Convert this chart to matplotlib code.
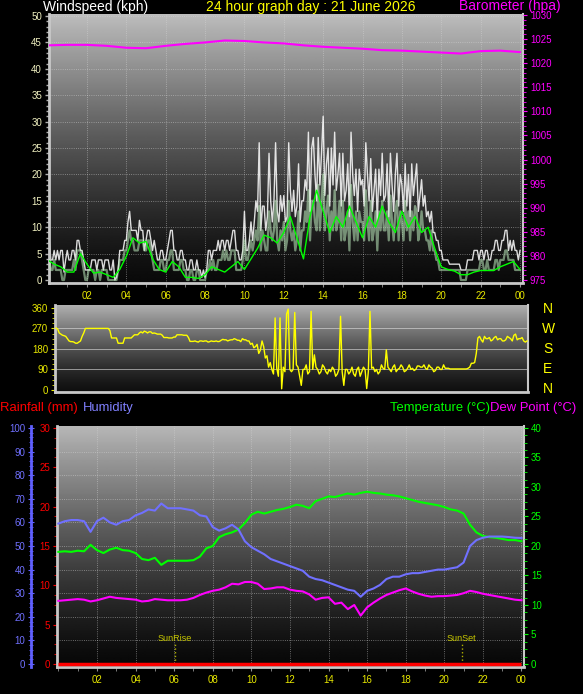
import numpy as np
import matplotlib
matplotlib.use('Agg')
import matplotlib.pyplot as plt
from matplotlib.ticker import MultipleLocator, FixedLocator

plt.rcParams['font.family'] = ['Liberation Sans', 'DejaVu Sans']

# ---- data (hours since midnight) ----
# wind, 5 minute steps, kph (one row per hour)
gust = [
    7.5, 7.5, 3.8, 3.8, 5.6, 3.8, 5.6, 3.8, 5.6, 5.6, 1.5, 3.8,
    5.6, 3.8, 3.8, 5.6, 5.6, 3.8, 7.5, 7.5, 5.6, 5.6, 3.8, 1.9,
    1.9, 1.9, 1.9, 3.8, 3.8, 3.8, 1.9, 3.8, 3.8, 3.8, 1.9, 3.8,
    3.8, 3.8, 1.9, 1.9, 3.8, 0.0, 0.5, 1.9, 5.6, 5.6, 5.6, 7.5,
    7.5, 11.0, 13.0, 9.4, 9.4, 9.4, 9.4, 7.5, 11.3, 9.4, 9.4, 5.6,
    7.5, 9.4, 9.4, 7.5, 5.6, 7.5, 5.6, 3.8, 3.8, 5.6, 5.6, 3.8,
    3.8, 5.6, 7.5, 9.4, 9.4, 5.6, 5.6, 3.8, 3.8, 5.6, 5.6, 3.8,
    3.8, 1.9, 1.9, 3.8, 3.8, 1.9, 1.9, 3.8, 1.9, 1.9, 0.5, 1.9,
    0.5, 1.9, 5.6, 5.6, 3.8, 5.6, 5.6, 5.6, 7.5, 5.6, 7.5, 7.5,
    5.6, 7.5, 7.5, 5.6, 7.5, 9.4, 9.4, 5.6, 5.6, 3.8, 3.8, 5.6,
    13.0, 5.6, 5.6, 7.5, 11.0, 7.5, 11.0, 15.0, 13.0, 26.0, 9.4, 14.0,
    14.0, 9.4, 12.0, 24.0, 15.0, 11.0, 15.0, 26.0, 13.0, 11.0, 16.0, 13.0,
    16.0, 11.0, 12.0, 26.0, 17.0, 13.0, 17.0, 12.0, 14.0, 22.0, 11.0, 15.0,
    15.0, 19.0, 17.0, 28.0, 13.0, 25.0, 27.0, 20.0, 15.0, 27.0, 18.0, 24.0,
    31.0, 16.0, 22.0, 25.0, 14.0, 25.0, 18.0, 28.0, 17.0, 20.0, 24.0, 14.0,
    24.0, 15.0, 17.0, 22.0, 12.0, 28.0, 20.0, 16.0, 21.0, 13.0, 21.0, 18.0,
    19.0, 14.0, 26.0, 20.0, 15.0, 23.0, 13.0, 17.0, 21.0, 11.0, 21.0, 16.0,
    24.0, 15.0, 16.0, 22.0, 12.0, 24.0, 18.0, 13.0, 20.0, 24.0, 14.0, 20.0,
    18.0, 13.0, 22.0, 14.0, 20.0, 12.0, 22.0, 16.0, 19.0, 22.0, 13.0, 16.0,
    19.0, 14.0, 16.0, 12.0, 13.0, 11.0, 13.0, 9.0, 9.0, 7.5, 7.5, 5.6,
    5.6, 3.8, 3.8, 3.8, 3.8, 3.0, 3.0, 3.0, 3.0, 3.0, 3.0, 3.0,
    1.9, 1.9, 1.9, 1.9, 3.8, 3.8, 3.8, 3.8, 5.6, 5.6, 5.6, 3.8,
    5.6, 5.6, 3.8, 5.6, 5.6, 3.8, 3.8, 5.6, 5.6, 7.5, 7.5, 5.6,
    5.6, 7.5, 7.5, 9.4, 9.4, 5.6, 7.5, 5.6, 7.5, 5.6, 5.6, 3.8,
    5.6]
speed = [
    3.8, 3.8, 1.9, 1.9, 3.8, 1.9, 1.9, 1.9, 1.9, 0.0, 0.0, 1.9,
    1.9, 1.9, 1.9, 1.9, 3.8, 1.9, 5.6, 5.6, 5.6, 3.8, 1.9, 0.0,
    0.0, 1.9, 1.9, 1.9, 1.9, 0.0, 1.9, 1.9, 0.0, 1.9, 1.9, 1.9,
    1.9, 0.0, 0.0, 0.0, 0.0, 0.0, 0.0, 1.9, 3.8, 3.8, 3.8, 5.6,
    5.6, 7.5, 9.4, 7.5, 7.5, 5.6, 5.6, 5.6, 7.5, 7.5, 7.5, 5.6,
    5.6, 7.5, 7.5, 5.6, 3.8, 1.9, 1.9, 1.9, 1.9, 3.8, 3.8, 1.9,
    1.9, 3.8, 3.8, 5.6, 5.6, 1.9, 1.9, 1.9, 1.9, 3.8, 3.8, 1.9,
    1.9, 0.0, 0.0, 1.9, 1.9, 0.0, 0.0, 1.9, 1.9, 0.0, 0.0, 0.0,
    0.0, 1.9, 1.9, 3.8, 1.9, 3.8, 1.9, 1.9, 3.8, 3.8, 3.8, 5.6,
    3.8, 5.6, 3.8, 3.8, 5.6, 5.6, 5.6, 1.9, 1.9, 1.9, 1.9, 3.8,
    7.5, 3.8, 3.8, 5.6, 7.5, 5.6, 7.5, 9.4, 7.5, 14.0, 5.6, 9.4,
    7.5, 5.6, 5.6, 13.0, 9.4, 7.5, 9.4, 15.0, 7.5, 5.6, 9.4, 7.5,
    11.0, 5.6, 7.5, 15.0, 9.4, 7.5, 9.4, 5.6, 7.5, 13.0, 5.6, 9.4,
    9.4, 13.0, 11.0, 17.0, 7.5, 15.0, 15.0, 11.0, 9.4, 18.0, 9.4, 15.0,
    20.0, 9.4, 13.0, 16.0, 7.5, 13.0, 9.4, 17.0, 9.4, 11.0, 15.0, 7.5,
    15.0, 7.5, 9.4, 13.0, 5.6, 18.0, 11.0, 7.5, 13.0, 7.5, 13.0, 11.0,
    11.0, 7.5, 17.0, 11.0, 7.5, 15.0, 7.5, 9.4, 13.0, 5.6, 13.0, 9.4,
    15.0, 9.4, 9.4, 13.0, 7.5, 16.0, 11.0, 7.5, 13.0, 15.0, 7.5, 13.0,
    11.0, 7.5, 15.0, 9.4, 13.0, 7.5, 13.0, 9.4, 14.0, 13.0, 7.5, 9.4,
    13.0, 9.4, 9.4, 7.5, 7.5, 5.6, 9.4, 5.6, 5.6, 3.8, 3.8, 1.9,
    1.9, 1.9, 1.9, 1.9, 1.9, 1.9, 1.9, 1.9, 1.9, 1.9, 1.9, 1.9,
    0.0, 0.0, 0.0, 0.0, 1.9, 1.9, 1.9, 1.9, 1.9, 1.9, 1.9, 1.9,
    3.8, 3.8, 1.9, 1.9, 3.8, 1.9, 1.9, 1.9, 1.9, 3.8, 3.8, 1.9,
    3.8, 3.8, 3.8, 5.6, 5.6, 3.8, 3.8, 3.8, 3.8, 1.9, 1.9, 1.9,
    1.9]
# 20 minute steps
avg_speed = [
    3.8, 3.0, 2.5, 1.5, 1.5, 5.0, 3.0, 1.3, 1.5, 1.0, 0.5, 2.0,
    4.5, 8.0, 7.0, 7.3, 4.0, 2.0, 1.5, 3.5, 2.5, 0.5, 0.5, 0.3,
    1.0, 2.5, 2.0, 1.5, 2.5, 3.5, 2.0, 4.0, 6.0, 8.5, 8.0, 7.0,
    9.0, 12.0, 8.0, 4.0, 12.0, 17.0, 13.0, 9.0, 12.0, 10.0, 14.0, 11.0,
    8.0, 12.0, 10.0, 14.0, 11.0, 9.0, 13.0, 10.0, 12.0, 9.0, 10.0, 6.0,
    2.5, 2.0, 1.7, 1.0, 1.0, 1.5, 1.8, 1.8, 1.8, 2.5, 3.0, 3.5,
    2.0]
# hourly, hPa
pressure = [1023.7, 1023.8, 1023.8, 1023.6, 1023.2, 1023.1, 1023.6, 1024.0,
            1024.3, 1024.7, 1024.6, 1024.3, 1024.1, 1023.7, 1023.4, 1023.2,
            1023.0, 1022.7, 1022.6, 1022.4, 1022.2, 1022.0, 1022.5, 1022.6,
            1022.3]
# wind direction, 5 minute steps, degrees (one row per hour)
direction = [
    272, 268, 250, 245, 240, 238, 235, 225, 215, 212, 212, 210,
    205, 205, 210, 215, 235, 250, 270, 270, 270, 270, 270, 270,
    270, 270, 270, 270, 270, 270, 270, 270, 270, 260, 228, 228,
    228, 228, 205, 205, 205, 205, 228, 228, 228, 228, 228, 235,
    242, 242, 242, 250, 255, 250, 258, 255, 250, 255, 255, 248,
    250, 248, 245, 245, 245, 240, 230, 230, 230, 228, 228, 228,
    232, 232, 242, 242, 242, 242, 240, 240, 240, 230, 213, 213,
    213, 215, 212, 210, 215, 215, 213, 215, 215, 210, 212, 215,
    213, 213, 215, 212, 213, 218, 222, 220, 220, 215, 218, 220,
    220, 225, 222, 218, 218, 212, 225, 220, 220, 215, 215, 200,
    205, 185, 190, 200, 160, 175, 215, 190, 140, 150, 100, 120,
    90, 70, 316, 95, 60, 316, 5, 100, 80, 333, 355, 90,
    80, 90, 340, 110, 100, 60, 20, 90, 90, 110, 70, 80,
    345, 90, 154, 100, 90, 70, 80, 110, 100, 80, 70, 90,
    80, 100, 90, 60, 70, 90, 323, 80, 20, 90, 90, 70,
    80, 100, 70, 60, 90, 100, 60, 80, 100, 90, 6, 80,
    345, 95, 100, 80, 90, 70, 80, 110, 95, 90, 176, 100,
    90, 80, 100, 110, 80, 90, 95, 110, 100, 80, 85, 95,
    110, 90, 95, 85, 90, 105, 105, 100, 100, 110, 95, 90,
    110, 100, 95, 80, 85, 100, 100, 90, 90, 110, 95, 95,
    95, 92, 92, 92, 92, 92, 92, 92, 92, 92, 92, 92,
    95, 100, 117, 117, 120, 160, 228, 235, 220, 210, 235, 225,
    225, 230, 215, 220, 230, 235, 220, 225, 225, 215, 215, 220,
    235, 230, 225, 215, 240, 245, 220, 225, 225, 230, 215, 210,
    215]
# 20 minute steps
temperature = [
    19.0, 19.1, 19.0, 19.2, 19.1, 20.2, 19.3, 18.8, 19.4, 19.7, 19.3, 19.2,
    18.8, 17.8, 17.6, 18.0, 16.8, 17.5, 17.5, 17.5, 17.5, 17.6, 18.2, 19.6,
    20.0, 21.5, 22.0, 22.3, 22.8, 23.9, 25.3, 25.8, 25.5, 25.8, 26.1, 26.3,
    26.6, 27.0, 26.8, 26.4, 27.6, 28.0, 28.4, 28.3, 28.6, 28.9, 28.7, 29.0,
    29.2, 29.0, 28.9, 28.7, 28.6, 28.4, 28.1, 27.8, 27.5, 27.3, 27.1, 26.9,
    26.6, 26.2, 26.0, 25.5, 23.6, 22.3, 21.7, 21.5, 21.4, 21.2, 21.0, 21.0,
    20.8]
humidity = [
    59.5, 60.5, 61, 61, 60.5, 56, 60.5, 62, 60, 59, 60.5, 61,
    63, 64, 65.5, 65, 68, 66, 66, 66, 65.5, 65, 63, 62.5,
    58, 56.5, 57.5, 59, 57, 52, 49.5, 48, 46.5, 44.5, 43.5, 42.5,
    41.5, 40.5, 39.5, 37, 36, 35.5, 34.5, 33.5, 32.5, 31.5, 31, 28.5,
    31, 32, 33.5, 36, 37, 37, 38, 38.5, 38.5, 39, 39.5, 40,
    40, 40.5, 41, 43, 50, 52.5, 53.5, 54, 54, 54, 53.8, 53.5,
    53.4]
dew_point = [
    10.7, 10.8, 10.9, 11.0, 10.9, 10.6, 10.8, 11.1, 11.4, 11.2, 11.1, 11.0,
    10.9, 10.6, 10.7, 11.0, 10.9, 10.8, 10.8, 10.8, 10.9, 11.2, 11.7, 12.1,
    12.4, 12.6, 13.0, 13.6, 13.5, 13.9, 13.9, 13.6, 12.7, 12.8, 13.0, 13.0,
    12.6, 12.4, 12.3, 11.8, 10.9, 11.2, 11.3, 10.2, 10.4, 9.3, 10.0, 8.2,
    9.6, 10.4, 11.1, 11.7, 12.1, 12.5, 12.8, 12.3, 11.9, 11.6, 11.4, 11.5,
    11.5, 11.6, 11.7, 12.0, 12.4, 12.2, 11.9, 11.7, 11.5, 11.3, 11.1, 10.9,
    10.8]
rainfall = [0.0] * 73
sunrise = 6.05
sunset = 20.9

hour_ticks = [2, 4, 6, 8, 10, 12, 14, 16, 18, 20, 22, 24]
hour_labels = ['02', '04', '06', '08', '10', '12', '14', '16', '18', '20', '22', '00']

t5 = np.arange(len(gust)) / 12.0
t20 = np.arange(len(temperature)) / 3.0
t60 = np.arange(len(pressure))

YELLOW = '#e8e800'
PALE = '#f0f0c0'
MAGENTA = '#ff00ff'
GREEN = '#00ff00'
BLUE = '#7070ff'
RED = '#ff0000'
EDGE = '#c8c8c8'
GRID = dict(color='#d8d8d8', lw=0.6, ls=':', alpha=0.6)


def gradient_bg(ax, top=0.74, bottom=0.04):
    s = np.linspace(1, 0, 256).reshape(-1, 1)
    g = bottom + (top - bottom) * s ** 1.3
    ax.imshow(g, extent=[0, 1, 0, 1], transform=ax.transAxes, aspect='auto',
              cmap='gray', vmin=0, vmax=1, zorder=0, interpolation='bilinear')


def base_spines(ax, right=True):
    for name, sp in ax.spines.items():
        sp.set_visible(name in ('left', 'bottom') or (right and name == 'right'))
        sp.set_color(EDGE)
        sp.set_linewidth(2 if name != 'right' else 1.5)


fig = plt.figure(figsize=(5.83, 6.94), dpi=100, facecolor='black')

# ---------------- wind / barometer ----------------
ax1 = fig.add_axes([0.0840, 0.5922, 0.8130, 0.3876])
gradient_bg(ax1)
base_spines(ax1)
for h in hour_ticks:
    ax1.axvline(h, zorder=1, **GRID)
for w in range(5, 51, 5):
    ax1.axhline(w, zorder=1, **GRID)
ax1.plot(t5, gust, color='white', lw=1.0, alpha=0.85, zorder=2)
ax1.plot(t5, speed, color='#c0f0c0', lw=1.6, alpha=0.55, zorder=3)
ax1.plot(t20, avg_speed, color=GREEN, lw=1.0, zorder=4)
ax1.set_xlim(0.07, 24.15)
ax1.set_ylim(-0.57, 50.38)
ax1.yaxis.set_major_locator(MultipleLocator(5))
ax1.yaxis.set_minor_locator(MultipleLocator(1))
ax1.tick_params(axis='y', which='both', colors='#b0b0b0', labelcolor=PALE, labelsize=7, length=3, width=1, pad=2)
ax1.tick_params(axis='y', which='minor', length=2)
ax1.xaxis.set_major_locator(FixedLocator(hour_ticks))
ax1.xaxis.set_minor_locator(MultipleLocator(1))
ax1.set_xticklabels(hour_labels)
ax1.tick_params(axis='x', which='both', colors='#909090', labelcolor=YELLOW, labelsize=7, length=3, pad=3)

ax1b = ax1.twinx()
for name, sp in ax1b.spines.items():
    sp.set_visible(False)
ax1b.plot(t60, pressure, color=MAGENTA, lw=1.5, zorder=5)
ax1b.set_ylim(974.38, 1030.2)
ax1b.yaxis.set_major_locator(MultipleLocator(5))
ax1b.yaxis.set_minor_locator(MultipleLocator(1))
ax1b.tick_params(axis='y', which='both', colors=MAGENTA, labelcolor=MAGENTA, labelsize=7, length=3, pad=2)
ax1b.tick_params(axis='y', which='minor', length=2)

fig.text(43 / 583, 1 - 7 / 694, 'Windspeed (kph)', color='white', fontsize=10, ha='left', va='center')
fig.text(311 / 583, 1 - 7 / 694, '24 hour graph day : 21 June 2026', color='#ffff00', fontsize=10, ha='center', va='center')
fig.text(561 / 583, 1 - 6 / 694, 'Barometer (hpa)', color=MAGENTA, fontsize=10, ha='right', va='center')

# ---------------- wind direction ----------------
ax2 = fig.add_axes([0.0943, 0.4352, 0.8113, 0.1254])
gradient_bg(ax2, top=0.70, bottom=0.06)
base_spines(ax2)
for d in (90, 180, 270):
    ax2.axhline(d, zorder=1, color='#e0e0e0', lw=0.7, alpha=0.6)
ax2.plot(t5, direction, color='#ffff00', lw=1.0, zorder=3)
ax2.set_xlim(-0.05, 24.05)
ax2.set_ylim(-9, 373)
ax2.set_xticks([])
ax2.yaxis.set_major_locator(FixedLocator([0, 90, 180, 270, 360]))
ax2.yaxis.set_minor_locator(MultipleLocator(22.5))
ax2.tick_params(axis='y', which='both', colors=YELLOW, labelcolor=YELLOW, labelsize=7, length=3, pad=2)
ax2.tick_params(axis='y', which='minor', length=2)
for letter, yy in zip(['N', 'W', 'S', 'E', 'N'], [309, 329, 349, 369, 389]):
    fig.text(548 / 583, 1 - yy / 694, letter, color='#ffff00', fontsize=10, ha='center', va='center')

# ---------------- rain / humidity / temperature ----------------
ax3 = fig.add_axes([0.0978, 0.0389, 0.8010, 0.3473])
gradient_bg(ax3, top=0.72, bottom=0.03)
base_spines(ax3)
for h in hour_ticks:
    ax3.axvline(h, zorder=1, **GRID)
for hum in range(10, 100, 10):
    ax3.axhline(hum * 0.3, zorder=1, **GRID)
ax3.plot(t20, rainfall, color=RED, lw=2.5, zorder=6, solid_capstyle='butt')
for name, when in (('SunRise', sunrise), ('SunSet', sunset)):
    ax3.plot([when, when], [0, 2.7], color='#b0b000', lw=1, ls=':', zorder=2)
    ax3.text(when, 3.3, name, color='#c8c800', fontsize=6.5, ha='center', va='center', zorder=2)
ax3.set_xlim(-0.07, 24.13)
ax3.set_ylim(-0.38, 30.25)
ax3.yaxis.set_major_locator(MultipleLocator(5))
ax3.yaxis.set_minor_locator(MultipleLocator(1.25))
ax3.tick_params(axis='y', which='both', colors=RED, labelcolor=RED, labelsize=7, length=3, pad=2)
ax3.tick_params(axis='y', which='minor', length=2)
ax3.xaxis.set_major_locator(FixedLocator(hour_ticks))
ax3.xaxis.set_minor_locator(MultipleLocator(1))
ax3.set_xticklabels(hour_labels)
ax3.tick_params(axis='x', which='both', colors='#909090', labelcolor=YELLOW, labelsize=7, length=3, pad=3)

ax3t = ax3.twinx()
for name, sp in ax3t.spines.items():
    sp.set_visible(False)
ax3t.plot(t20, temperature, color=GREEN, lw=1.5, zorder=4)
ax3t.plot(t20, dew_point, color=MAGENTA, lw=1.5, zorder=4)
ax3t.set_ylim(-0.51, 40.34)
ax3t.yaxis.set_major_locator(MultipleLocator(5))
ax3t.yaxis.set_minor_locator(MultipleLocator(1.25))
ax3t.tick_params(axis='y', which='both', colors=GREEN, labelcolor=GREEN, labelsize=7, length=3, pad=2)
ax3t.tick_params(axis='y', which='minor', length=2)

ax3h = ax3.twinx()
for name, sp in ax3h.spines.items():
    sp.set_visible(False)
ax3h.spines['left'].set_visible(True)
ax3h.spines['left'].set_position(('axes', -0.0557))
ax3h.spines['left'].set_color('#6060ff')
ax3h.spines['left'].set_linewidth(2)
ax3h.yaxis.tick_left()
ax3h.plot(t20, humidity, color=BLUE, lw=1.5, zorder=3)
ax3h.set_ylim(-1.27, 100.85)
ax3h.yaxis.set_major_locator(MultipleLocator(10))
ax3h.yaxis.set_minor_locator(MultipleLocator(2))
ax3h.tick_params(axis='y', which='both', direction='inout', colors='#6060ff', labelcolor=BLUE, labelsize=7, length=4, pad=2)
ax3h.tick_params(axis='y', which='minor', length=3)

fig.text(0, 1 - 408 / 694, 'Rainfall (mm)', color=RED, fontsize=9.4, ha='left', va='center')
fig.text(83 / 583, 1 - 408 / 694, 'Humidity', color='#8080ff', fontsize=9.4, ha='left', va='center')
fig.text(490 / 583, 1 - 408 / 694, 'Temperature (°C)', color=GREEN, fontsize=9.4, ha='right', va='center')
fig.text(490 / 583, 1 - 408 / 694, 'Dew Point (°C)', color=MAGENTA, fontsize=9.4, ha='left', va='center')

fig.savefig('out.png', dpi=100, facecolor='black')
